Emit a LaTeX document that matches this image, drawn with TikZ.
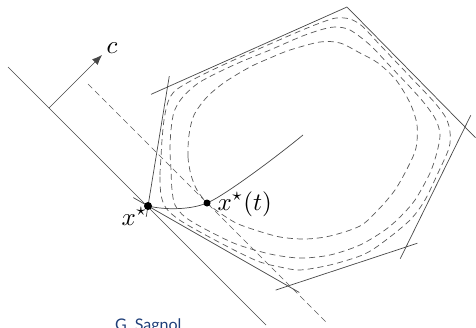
\documentclass[tikz,border=0pt]{standalone}
\usepackage{fontspec}
\newfontfamily\latofont{Lato}
\usetikzlibrary{arrows.meta,calc}
\definecolor{sagblue}{RGB}{30,62,120}
\begin{document}
\begin{tikzpicture}[x=1pt,y=-1pt,
  edge/.style={draw=black!72,line width=0.7pt},
  level/.style={draw=black!65,line width=0.7pt,dash pattern=on 6pt off 4pt},
  lab/.style={inner sep=0pt,scale=2.5},
  dot/.style={circle,fill=black,inner sep=0pt,minimum size=8pt}]
\useasboundingbox (0,0) rectangle (476,327);
% vertices
\coordinate (xs) at (148,206);
\coordinate (xt) at (207,203);
\coordinate (F) at (167.5,87);
\coordinate (A) at (347,7);
\coordinate (B) at (465,127);
\coordinate (C) at (406,247);
\coordinate (D) at (288,286);
% polygon edges (supporting lines)
\draw[edge, shorten <=-11pt, shorten >=-11pt] (xs) -- (F);
\draw[edge, shorten <=-18pt] (F) -- (A);
\draw[edge, shorten >=-15pt] (A) -- (B);
\draw[edge, shorten <=-13pt, shorten >=-13pt] (B) -- (C);
\draw[edge, shorten <=-12pt, shorten >=-13pt] (C) -- (D);
\draw[edge, shorten <=-13pt, shorten >=-17pt] (D) -- (xs);
% supporting hyperplane and c
\coordinate (S1) at (8,67);
\coordinate (S2) at (266,325);
\draw[edge] (S1) -- (S2);
\coordinate (c0) at (49,108);
\coordinate (c1) at (102,55);
\draw[edge,-{Latex[length=10pt,width=8pt]}] (c0) -- (c1);
% dashed level line of c
\coordinate (d1) at (88,84);
\coordinate (d2) at (328,324);
\draw[level] (d1) -- (d2);
% level sets of barrier
\draw[level] plot[smooth cycle] coordinates {
 (191,175) (188,157) (189,135) (194,115) (207,97) (225,82) (250,67) (270,58)
 (290,50) (320,42) (340,43) (360,53) (378,63) (396,80) (410,103) (417,125)
 (416,148) (408,167) (395,190) (378,210) (360,226) (330,236) (305,239)
 (280,237) (255,230) (236,223) (220,213) (207,203) (197,190)};
\draw[level] plot[smooth cycle] coordinates {
 (172,190) (171,170) (170,150) (171,130) (174,112) (182,98) (200,82) (236,64)
 (270,50) (300,37) (320,30) (335,27) (350,30) (370,45) (390,66) (410,87)
 (425,104) (436,120) (440,135) (437,152) (430,173) (415,200) (400,217)
 (385,230) (360,245) (330,255) (300,258) (270,254) (236,244) (205,229)
 (185,217) (175,205)};
\draw[level] plot[smooth cycle] coordinates {
 (161,195) (160,175) (161,157) (162,140) (164,120) (168,102) (176,90) (200,76)
 (236,59) (270,44) (300,31) (320,23) (336,18) (350,19) (362,26) (380,45)
 (400,66) (420,87) (435,103) (446,118) (450,132) (449,148) (438,173)
 (425,200) (412,218) (395,233) (375,248) (360,256) (330,265) (300,270)
 (280,267) (260,262) (236,251) (200,232) (178,219) (166,208)};
% central path
\coordinate (pe) at (303,135);
\draw[edge] (xs) .. controls (165,210) and (190,210) .. (xt)
  .. controls (222,197) and (270,162) .. (pe);
% points
\node[dot] (xsdot) at (xs) {};
\node[dot,minimum size=7pt] (xtdot) at (xt) {};
% labels
\node[lab,anchor=base west] (lc) at (106,53) {$c$};
\node[lab,anchor=base west] (lxs) at (121,225) {$x^\star$};
\node[lab,anchor=base west] (lxt) at (217,210) {$x^\star(t)$};
\node[anchor=base west,inner sep=0pt,text=sagblue,font=\latofont\fontsize{16}{18}\selectfont] (auth) at (115,330) {G. Sagnol};
\end{tikzpicture}
\end{document}
